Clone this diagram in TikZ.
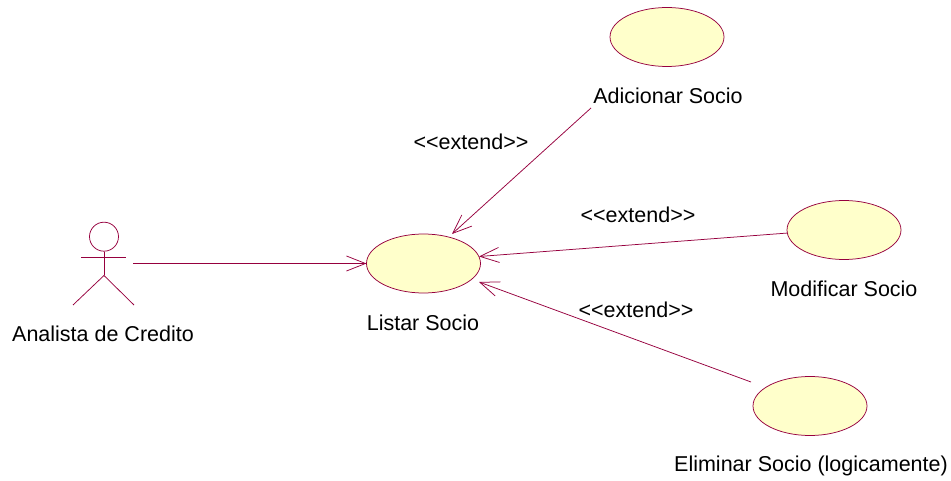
\documentclass[tikz,border=0pt]{standalone}
\usepackage{fontspec}
\setmainfont{Liberation Sans}
\definecolor{umlred}{RGB}{150,0,62}
\definecolor{umlfill}{RGB}{255,255,203}
\usetikzlibrary{shapes.geometric,arrows.meta}
\tikzset{
 x=1pt,y=-1pt,
 usecase/.style={ellipse,draw=umlred,fill=umlfill,line width=0.75pt,minimum width=114pt,minimum height=59pt,inner sep=0pt},
 lbl/.style={font=\fontsize{21.5}{25}\selectfont,text=black,inner sep=0pt,anchor=center},
 conn/.style={draw=umlred,line width=0.75pt},
 tip/.style={-{Straight Barb[length=19pt,width=15pt,line width=0.75pt]}}
}
\newcommand{\ext}{{<}{<}extend{>}{>}}
\begin{document}
\begin{tikzpicture}
\useasboundingbox (0,0) rectangle (951,481);
\node[usecase] (adic) at (667,37) {};
\node[usecase] (mod) at (844,230) {};
\node[usecase] (elim) at (810,406) {};
\node[usecase] (list) at (423.5,263.5) {};
\node[lbl] (tadic) at (668,96) {Adicionar Socio};
\node[lbl] (tmod) at (844,289) {Modificar Socio};
\node[lbl] (telim) at (811,466) {Eliminar Socio (logicamente)};
\node[lbl] (tlist) at (423,323) {Listar Socio};
\node[lbl] (tact) at (103,334) {Analista de Credito};
\node[lbl] (e1) at (471,142) {\ext};
\node[lbl] (e2) at (638,215) {\ext};
\node[lbl] (e3) at (636,310) {\ext};
\node[circle,draw=umlred,line width=0.75pt,minimum size=29pt,inner sep=0pt] (head) at (104,236.7) {};
\coordinate (hip) at (104,275.5);
\coordinate (armL) at (81,257);
\coordinate (armR) at (126,257);
\coordinate (legL) at (73,305);
\coordinate (legR) at (134,305);
\draw[conn] (head.south) -- (hip);
\draw[conn] (armL) -- (armR);
\draw[conn] (hip) -- (legL);
\draw[conn] (hip) -- (legR);
\coordinate (a0) at (133,263.5);
\coordinate (a1) at (366.5,263.5);
\coordinate (b0) at (591,108);
\coordinate (b1) at (452,234);
\coordinate (c0) at (788,233);
\coordinate (c1) at (479,256.5);
\coordinate (d0) at (751,382);
\coordinate (d1) at (479,282);
\draw[conn,tip] (a0) -- (a1);
\draw[conn,tip] (b0) -- (b1);
\draw[conn,tip] (c0) -- (c1);
\draw[conn,tip] (d0) -- (d1);
\end{tikzpicture}
\end{document}
